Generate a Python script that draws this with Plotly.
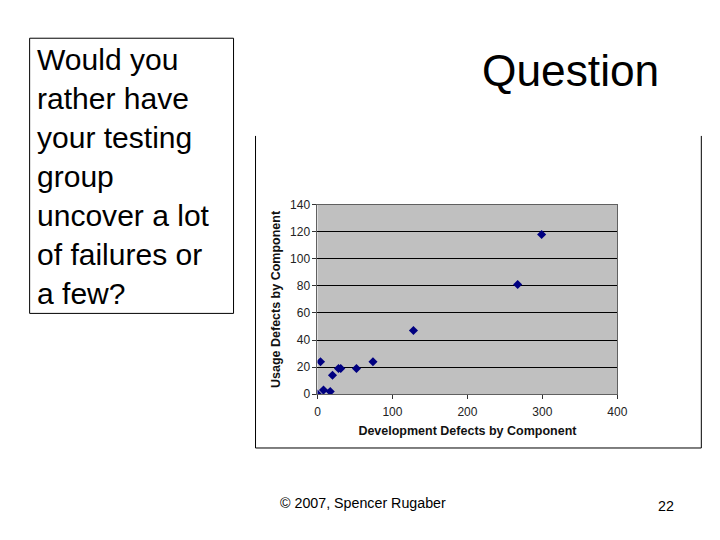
import plotly.graph_objects as go

# Development vs usage defects per component
dev_defects = [0, 4, 8, 17, 20, 28, 31, 52, 74, 128, 267, 299]
usage_defects = [0, 24, 3, 2, 14, 19, 19, 19, 24, 47, 81, 118]

x_ticks = [0, 100, 200, 300, 400]
y_ticks = [0, 20, 40, 60, 80, 100, 120, 140]

# Page body margin plus a small scale/offset measured from earlier renders
PAGE_MARGIN = 8
SX, OX = 0.982, 3.5
SY, OY = 0.976, 5.9
W, H = 704, 520
K = 1 / SX  # font scale to compensate


def px(x):
    return ((x - OX) / SX - PAGE_MARGIN) / W


def py(y):
    return (H - ((y - OY) / SY - PAGE_MARGIN)) / H


fig = go.Figure()

fig.add_trace(go.Scatter(
    x=dev_defects, y=usage_defects, mode='markers',
    marker=dict(symbol='diamond', size=7, color='#000080'),
    hoverinfo='x+y'
))

axis_font = dict(family='Arial, Liberation Sans', size=12, color='#222222')
title_font = dict(family='Arial, Liberation Sans', size=12.5, color='#111111')

fig.update_layout(
    width=W, height=H,
    margin=dict(l=0, r=0, t=0, b=0),
    paper_bgcolor='white',
    plot_bgcolor='#C0C0C0',
    showlegend=False,
    xaxis=dict(
        domain=[px(318), px(618)], range=[0, 400],
        tickvals=x_ticks, ticks='outside', ticklen=4, tickcolor='#333333',
        ticklabelstandoff=2,
        showgrid=False, zeroline=False,
        showline=True, linecolor='#606060', linewidth=1, mirror=True,
        tickfont=axis_font,
        title=dict(text='<b>Development Defects by Component</b>', font=title_font, standoff=8),
    ),
    yaxis=dict(
        domain=[py(394), py(204)], range=[0, 140],
        tickvals=y_ticks, ticks='outside', ticklen=4, tickcolor='#333333',
        showgrid=True, gridcolor='black', gridwidth=1, zeroline=False,
        showline=True, linecolor='#606060', linewidth=1, mirror=True,
        tickfont=axis_font,
        title=dict(text='<b>Usage Defects by Component</b>', font=title_font, standoff=6),
    ),
)

# Picture frame around the pasted chart (left, bottom, right sides)
frame = dict(type='line', xref='paper', yref='paper', line=dict(color='black', width=1))
fig.add_shape(x0=px(256), x1=px(256), y0=py(135), y1=py(448), **frame)
fig.add_shape(x0=px(256), x1=px(702), y0=py(448), y1=py(448), **frame)
fig.add_shape(x0=px(702), x1=px(702), y0=py(135), y1=py(448), **frame)

# Question text box
fig.add_shape(type='rect', xref='paper', yref='paper',
              x0=px(30), x1=px(234), y0=py(313), y1=py(37),
              line=dict(color='black', width=1), fillcolor='white', layer='below')

slide_font = 'Arial, Liberation Sans'
fig.add_annotation(
    xref='paper', yref='paper', x=px(35), y=py(40), xanchor='left', yanchor='top',
    text='Would you<br>rather have<br>your testing<br>group<br>uncover a lot<br>of failures or<br>a few?',
    align='left', showarrow=False,
    font=dict(family=slide_font, size=29.5 * K, color='black')
)
fig.add_annotation(
    xref='paper', yref='paper', x=px(571), y=py(69), xanchor='center', yanchor='middle',
    text='Question', showarrow=False,
    font=dict(family=slide_font, size=43.5 * K, color='black')
)
fig.add_annotation(
    xref='paper', yref='paper', x=px(278), y=py(503), xanchor='left', yanchor='middle',
    text='© 2007, Spencer Rugaber', showarrow=False,
    font=dict(family=slide_font, size=14 * K, color='black')
)
fig.add_annotation(
    xref='paper', yref='paper', x=px(677), y=py(506), xanchor='right', yanchor='middle',
    text='22', showarrow=False,
    font=dict(family=slide_font, size=14 * K, color='black')
)

fig.write_html("out.html")
